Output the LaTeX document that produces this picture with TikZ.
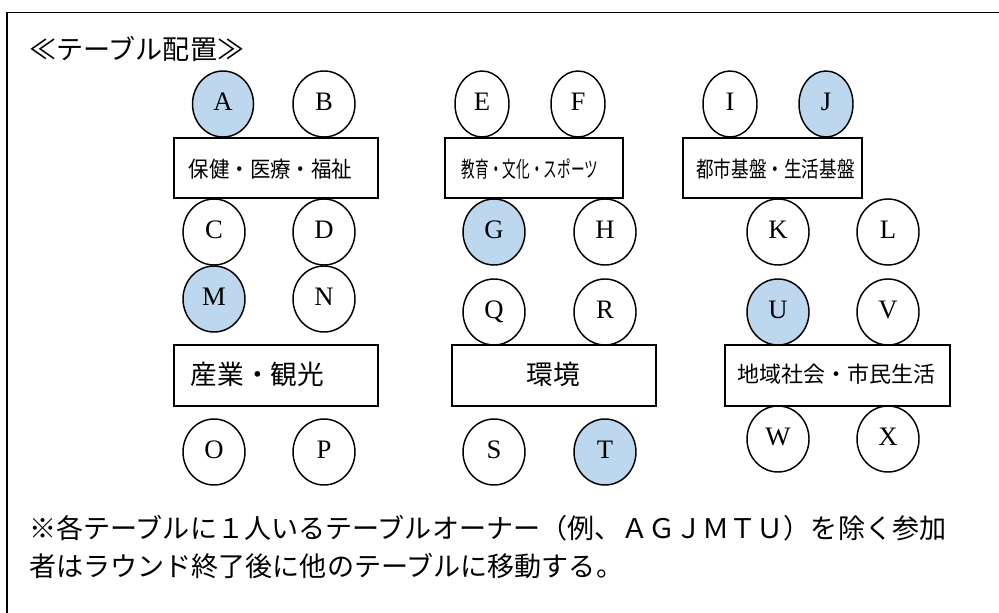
\documentclass[tikz,border=0pt]{standalone}
\usepackage{fontspec}
\setmainfont{Liberation Serif}
\newfontfamily\jp{Noto Sans CJK JP}
\usetikzlibrary{shapes.geometric}
\definecolor{ownerblue}{HTML}{BDD7EE}
\tikzset{
  seat/.style={ellipse, draw, line width=1.1pt, inner sep=0pt,
    minimum width=46.5pt, minimum height=49.5pt,
    text height=13.2pt, text depth=4pt,
    font=\fontsize{20}{24}\selectfont},
  narrowseat/.style={seat, minimum width=40.5pt},
  owner/.style={fill=ownerblue},
  tablebox/.style={rectangle, draw, line width=1.1pt, inner sep=0pt, minimum height=45pt},
  tablelabel/.style={inner sep=0pt, font=\jp\fontsize{16.5}{20}\selectfont},
  bigtext/.style={inner sep=0pt, anchor=west, font=\jp\fontsize{20.3}{24}\selectfont}
}
\begin{document}
\begin{tikzpicture}[x=0.75pt,y=-0.75pt]
\useasboundingbox (0,0) rectangle (999,613);
% frame (top and left edges visible)
\coordinate (fbl) at (7,613);
\coordinate (ftl) at (7,12.5);
\coordinate (ftr) at (999,12.5);
\draw[line width=1.1pt] (fbl) -- (ftl) -- (ftr);

\node[bigtext] (title) at (29,49) {≪テーブル配置≫};

% tables
\node[tablebox, minimum width=153pt] (t1) at (276,168) {};
\node[tablebox, minimum width=133.5pt] (t2) at (534,168) {};
\node[tablebox, minimum width=134.25pt] (t3) at (772.5,168) {};
\node[tablebox, minimum width=153pt, minimum height=45.75pt] (t4) at (276,375.5) {};
\node[tablebox, minimum width=153pt, minimum height=45.75pt] (t5) at (554,375.5) {};
\node[tablebox, minimum width=168.75pt, minimum height=45.75pt] (t6) at (837.5,375.5) {};

\node[tablelabel] (l1) at (270.5,169) {\scalebox{0.93}[1]{保健・医療・福祉}};
\node[tablelabel] (l2) at (530,169) {\scalebox{0.62}[1]{教育・文化・スポーツ}};
\node[tablelabel] (l3) at (775.5,169) {\scalebox{0.8}[1]{都市基盤・生活基盤}};
\node[tablelabel, font=\jp\fontsize{20}{24}\selectfont] (l4) at (257.5,374) {産業・観光};
\node[tablelabel, font=\jp\fontsize{20}{24}\selectfont] (l5) at (553,374) {環境};
\node[tablelabel] (l6) at (836.5,374) {地域社会・市民生活};

% seats, group 1
\node[seat, owner, minimum width=45.75pt] (A) at (223,104) {A};
\node[seat] (B) at (324,104) {B};
\node[seat] (C) at (214,232) {C};
\node[seat] (D) at (324,232) {D};
\node[seat, owner] (M) at (214,299) {M};
\node[seat] (N) at (324,299) {N};
\node[seat] (O) at (214,452) {O};
\node[seat] (P) at (324,452) {P};
% group 2
\node[narrowseat] (E) at (482,104) {E};
\node[narrowseat] (F) at (578,104) {F};
\node[seat, owner] (G) at (494,232) {G};
\node[seat] (H) at (605,232) {H};
\node[seat] (Q) at (494,312) {Q};
\node[seat] (R) at (605,312) {R};
\node[seat] (S) at (494,452) {S};
\node[seat, owner] (T) at (605,452) {T};
% group 3
\node[narrowseat] (I) at (730,104) {I};
\node[narrowseat, owner] (J) at (826,104) {J};
\node[seat] (K) at (778,232) {K};
\node[seat] (L) at (888,232) {L};
\node[seat, owner] (U) at (778,312) {U};
\node[seat] (V) at (888,312) {V};
\node[seat] (W) at (778,439) {W};
\node[seat] (X) at (888,439) {X};

% note
\node[bigtext] (note1) at (29,528) {※各テーブルに１人いるテーブルオーナー（例、ＡＧＪＭＴＵ）を除く参加};
\node[bigtext] (note2) at (29,566) {者はラウンド終了後に他のテーブルに移動する。};
\end{tikzpicture}
\end{document}
